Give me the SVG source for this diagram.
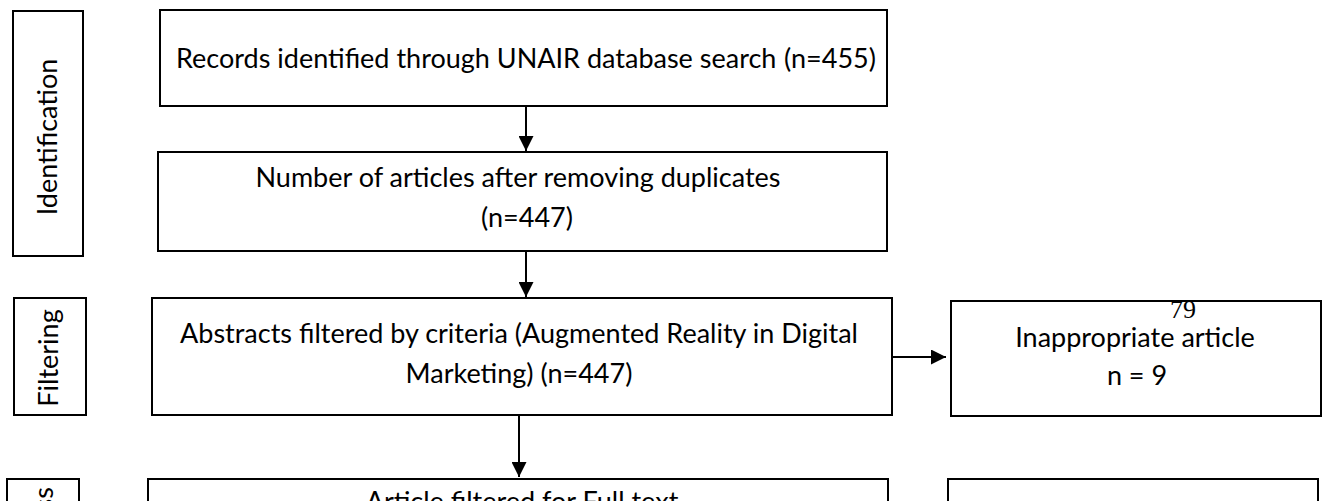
<svg xmlns="http://www.w3.org/2000/svg" width="1324" height="501" viewBox="0 0 1324 501">
<defs>
<style>
.box{fill:#fff;stroke:#000;stroke-width:2}
.t{font-family:Lato,"Liberation Sans",sans-serif;font-size:27px;fill:#000}
.c{text-anchor:middle}
.ln{stroke:#000;stroke-width:2;fill:none}
</style>
<marker id="ah" viewBox="0 0 10 10" refX="10" refY="5" markerWidth="15" markerHeight="15" markerUnits="userSpaceOnUse" orient="auto">
<path d="M0,0 L10,5 L0,10 Z" fill="#000"/>
</marker>
</defs>
<rect width="1324" height="501" fill="#fff"/>
<g id="stage-identification">
<rect class="box" x="13" y="11" width="70" height="245"/>
<text class="t c" transform="translate(57,137) rotate(-90)">Identification</text>
</g>
<g id="stage-filtering">
<rect class="box" x="14" y="298" width="72" height="117"/>
<text class="t c" transform="translate(58,358) rotate(-90)">Filtering</text>
</g>
<g id="stage-bottom">
<rect class="box" x="7" y="479" width="72" height="40"/>
<text class="t" text-anchor="end" transform="translate(53,487) rotate(-90)">ss</text>
</g>
<g id="records">
<rect class="box" x="160" y="10" width="727" height="96"/>
<text class="t" x="176" y="68">Records identified through UNAIR database search<tspan x="784">(n=455)</tspan></text>
</g>
<g id="dedup">
<rect class="box" x="158" y="152" width="729" height="99"/>
<text class="t c" x="518" y="187">Number of articles after removing duplicates</text>
<text class="t c" x="527" y="227">(n=447)</text>
</g>
<g id="abstracts">
<rect class="box" x="152" y="298" width="740" height="117"/>
<text class="t c" x="519" y="343">Abstracts filtered by criteria (Augmented Reality in Digital</text>
<text class="t c" x="519" y="383">Marketing) (n=447)</text>
</g>
<g id="inappropriate">
<rect class="box" x="951" y="301" width="370" height="115"/>
<text x="1183" y="318" style="font-family:'Liberation Serif',serif;font-size:26px;text-anchor:middle;fill:#000">79</text>
<text class="t c" x="1135" y="347">Inappropriate article</text>
<text class="t c" x="1137" y="385">n = 9</text>
</g>
<g id="fulltext">
<rect class="box" x="148" y="479" width="740" height="60"/>
<text class="t c" x="522" y="511">Article filtered for Full text</text>
</g>
<g id="right-bottom">
<rect class="box" x="948" y="479" width="370" height="60"/>
</g>
<g id="connectors">
<line class="ln" x1="526" y1="106" x2="526" y2="151" marker-end="url(#ah)"/>
<line class="ln" x1="526" y1="251" x2="526" y2="297" marker-end="url(#ah)"/>
<line class="ln" x1="892" y1="357" x2="946" y2="357" marker-end="url(#ah)"/>
<line class="ln" x1="519" y1="415" x2="519" y2="477" marker-end="url(#ah)"/>
</g>
</svg>
